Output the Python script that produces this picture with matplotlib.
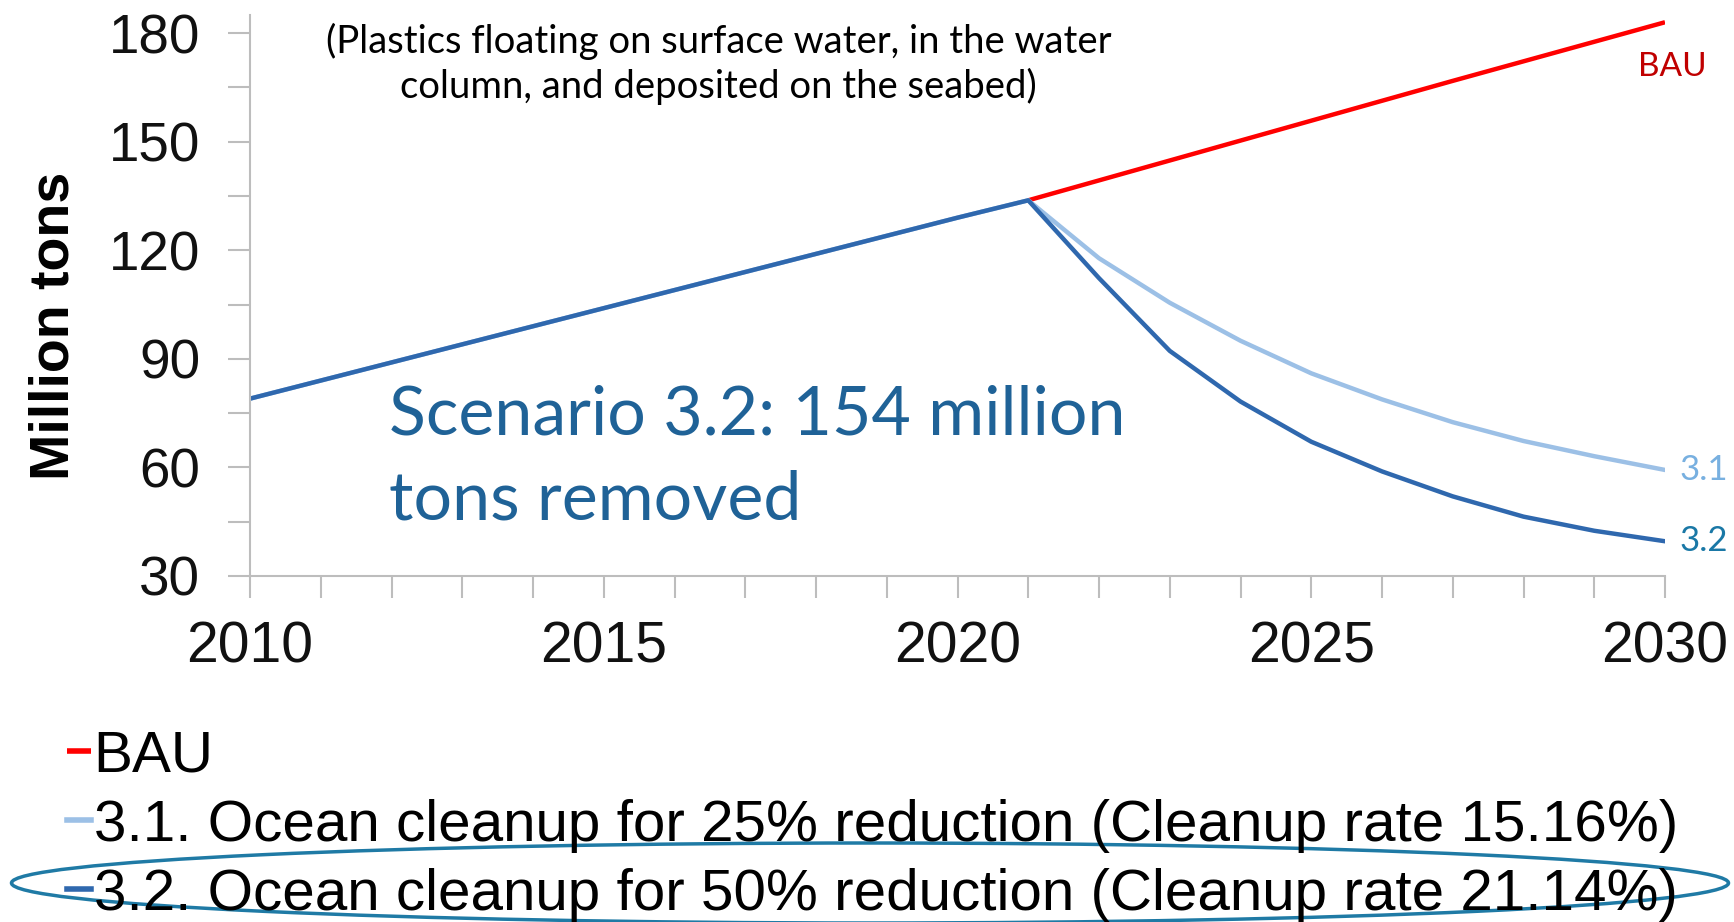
import matplotlib
matplotlib.use("Agg")
import matplotlib.pyplot as plt
from matplotlib import font_manager
from matplotlib.patches import Ellipse

# data (million tons)
hist_years = list(range(2010, 2022))
hist_vals = [79, 84, 89, 94, 99, 104, 109, 114, 119, 124, 129, 133.8]
proj_years = list(range(2021, 2031))
bau_vals = [133.8, 139.3, 144.8, 150.3, 155.8, 161.3, 166.8, 172.2, 177.6, 183]
s31_vals = [133.8, 117.8, 105.5, 95, 86, 78.8, 72.5, 67.3, 63.1, 59.3]
s32_vals = [133.8, 112.3, 92.2, 78.2, 67.1, 58.9, 52, 46.4, 42.5, 39.6]

legend_labels = ["BAU",
                 "3.1. Ocean cleanup for 25% reduction (Cleanup rate 15.16%)",
                 "3.2. Ocean cleanup for 50% reduction (Cleanup rate 21.14%)"]

red = "#ff0000"
light = "#9cc0e6"
dark = "#2f68ae"

have = {f.name for f in font_manager.fontManager.ttflist}
narrow = "Liberation Sans Narrow" if "Liberation Sans Narrow" in have else "Liberation Sans"
anno_font = "Lato"

fig = plt.figure(figsize=(17.34, 9.22), dpi=100)
ax = fig.add_axes([250 / 1734, 1 - 576 / 922, 1415 / 1734, (576 - 15) / 922])

ax.plot(proj_years, bau_vals, color=red, lw=3.2, label=legend_labels[0], solid_capstyle="butt")
ax.plot(hist_years + proj_years[1:], hist_vals + s31_vals[1:], color=light, lw=3.2,
        label=legend_labels[1])
ax.plot(hist_years + proj_years[1:], hist_vals + s32_vals[1:], color=dark, lw=3.2,
        label=legend_labels[2])

ax.set_xlim(2010, 2030)
ax.set_ylim(30, 185)
ax.set_xticks([2010, 2015, 2020, 2025, 2030])
ax.set_xticks(range(2010, 2031), minor=True)
ax.set_yticks([30, 60, 90, 120, 150, 180])
ax.set_yticks(range(30, 181, 15), minor=True)
for s in ["top", "right"]:
    ax.spines[s].set_visible(False)
for s in ["left", "bottom"]:
    ax.spines[s].set_color("#bdbdbd")
    ax.spines[s].set_linewidth(1.5)
ax.tick_params(axis="both", which="both", color="#bdbdbd", width=1.5, length=16,
               labelcolor="#111111")
ax.tick_params(axis="y", which="both", direction="out", pad=20, labelsize=39.5)
ax.tick_params(axis="x", which="both", direction="out", pad=16, labelsize=41)
for lab in ax.get_xticklabels() + ax.get_yticklabels():
    lab.set_fontfamily("Liberation Sans")
ax.set_ylabel("Million tons", fontsize=40, fontweight="bold", family="Liberation Sans")
ax.yaxis.set_label_coords(-0.12, 0.446)

ax.text(0.331, 0.986, "(Plastics floating on surface water, in the water\ncolumn, and deposited on the seabed)",
        transform=ax.transAxes, ha="center", va="top", fontsize=27.5, family=anno_font,
        linespacing=1.25)
ax.text(0.098, 0.21, "Scenario 3.2: 154 million\ntons removed", transform=ax.transAxes,
        ha="left", va="center", fontsize=49, family=anno_font, color="#1f6297",
        linespacing=1.45)

ax.text(2030.1, 170.5, "BAU", ha="center", va="center", fontsize=24, family=anno_font,
        color="#c00000", clip_on=False)
ax.text(2030.2, 59.3, "3.1", ha="left", va="center", fontsize=25, family=anno_font,
        color="#78b0e0", clip_on=False)
ax.text(2030.2, 39.6, "3.2", ha="left", va="center", fontsize=25, family=anno_font,
        color="#1a78a6", clip_on=False)

leg = fig.legend(loc="upper left", bbox_to_anchor=(44 / 1734, 1 - 706 / 922), frameon=False,
                 handlelength=0.4, handletextpad=0.05, labelspacing=0.26,
                 prop={"family": narrow, "size": 42}, borderaxespad=0)
for h in leg.get_lines():
    h.set_linewidth(4)

fig.patches.append(Ellipse((870 / 1734, 1 - 883 / 922), 1717 / 1734, 80 / 922,
                           transform=fig.transFigure, fill=False, edgecolor="#1f7aa5",
                           lw=2.5))

fig.savefig("out.png", dpi=100)
